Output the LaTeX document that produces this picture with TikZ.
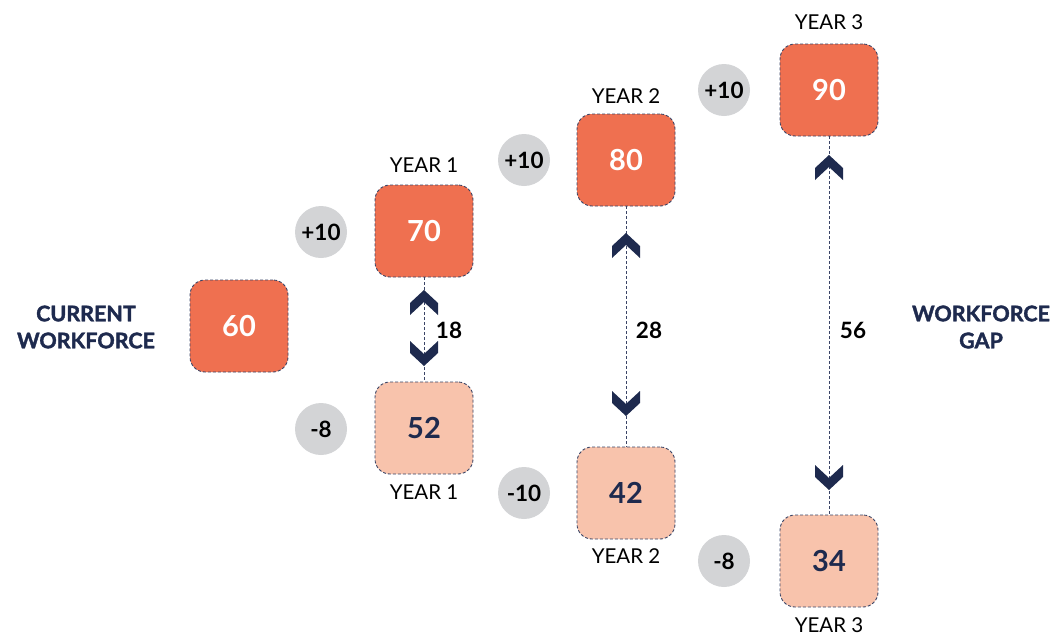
\documentclass[tikz,border=0pt]{standalone}
\usepackage{fontspec}
\setmainfont{Lato}
\newfontfamily\heavyfont{Lato}[BoldFeatures={FakeBold=1.8}]
\definecolor{orng}{HTML}{EF7050}
\definecolor{peach}{HTML}{F8C3AC}
\definecolor{navy}{HTML}{1E2A4E}
\definecolor{gry}{HTML}{D3D4D6}
\definecolor{edge}{HTML}{3A4466}
\tikzset{
  box/.style={draw=edge, line width=0.9pt, dash pattern=on 3pt off 2pt, rounded corners=15pt,
     minimum width=98pt, minimum height=92pt, inner sep=0pt},
  hibox/.style={box, fill=orng, text=white, font=\fontsize{29}{29}\selectfont\bfseries},
  lobox/.style={box, fill=peach, text=navy, font=\fontsize{29}{29}\selectfont\bfseries},
  bub/.style={circle, fill=gry, minimum size=52pt, inner sep=0pt, text=black, font=\fontsize{22.5}{22.5}\selectfont\bfseries},
  yr/.style={font=\fontsize{20.5}{20.5}\selectfont, text=black, inner sep=0pt},
  gap/.style={font=\fontsize{22.5}{22.5}\selectfont\bfseries, text=black, inner sep=0pt},
  side/.style={font=\heavyfont\fontsize{21.5}{27}\selectfont\bfseries, text=navy, align=center, inner sep=0pt},
  link/.style={draw=edge, line width=0.9pt, dash pattern=on 3pt off 2pt},
  chev/.style={fill=navy},
}
\begin{document}
\begin{tikzpicture}[x=1pt,y=-1pt]
\useasboundingbox (0,0) rectangle (1061,635);
% boxes
\node[hibox] (b60) at (239,326) {60};
\node[hibox] (b70) at (424,231) {70};
\node[lobox] (b52) at (424,428) {52};
\node[hibox] (b80) at (626,160) {80};
\node[lobox] (b42) at (626,493) {42};
\node[hibox] (b90) at (829,90) {90};
\node[lobox] (b34) at (829,561) {34};
% year labels
\node[yr] (y1a) at (424,165) {YEAR 1};
\node[yr] (y1b) at (424,492) {YEAR 1};
\node[yr] (y2a) at (626,96) {YEAR 2};
\node[yr] (y2b) at (626,556) {YEAR 2};
\node[yr] (y3a) at (829,22) {YEAR 3};
\node[yr] (y3b) at (829,625) {YEAR 3};
% bubbles
\node[bub] (c1) at (321,232) {+10};
\node[bub] (c2) at (321,429) {-8};
\node[bub] (c3) at (524,160) {+10};
\node[bub] (c4) at (524,493) {-10};
\node[bub] (c5) at (724,90) {+10};
\node[bub] (c6) at (724,561) {-8};
% side labels
\node[side] (cw) at (86,327) {CURRENT\\WORKFORCE};
\node[side] (wg) at (981,327) {WORKFORCE\\GAP};
% links
\draw[link] (b70.south) -- (b52.north);
\draw[link] (b80.south) -- (b42.north);
\draw[link] (b90.south) -- (b34.north);
% chevrons: up apex at given point
\foreach \x/\yu/\yd in {424/290/366, 626/233/416, 829/155/490}{
  \fill[chev] (\x,\yu) -- ++(14,13) -- ++(0,12) -- ++(-14,-13) -- ++(-14,13) -- ++(0,-12) -- cycle;
  \fill[chev] (\x,\yd) -- ++(14,-13) -- ++(0,-12) -- ++(-14,13) -- ++(-14,-13) -- ++(0,12) -- cycle;
}
% gap numbers
\node[gap] (g1) at (449,330) {18};
\node[gap] (g2) at (649,330) {28};
\node[gap] (g3) at (853,330) {56};
\end{tikzpicture}
\end{document}
